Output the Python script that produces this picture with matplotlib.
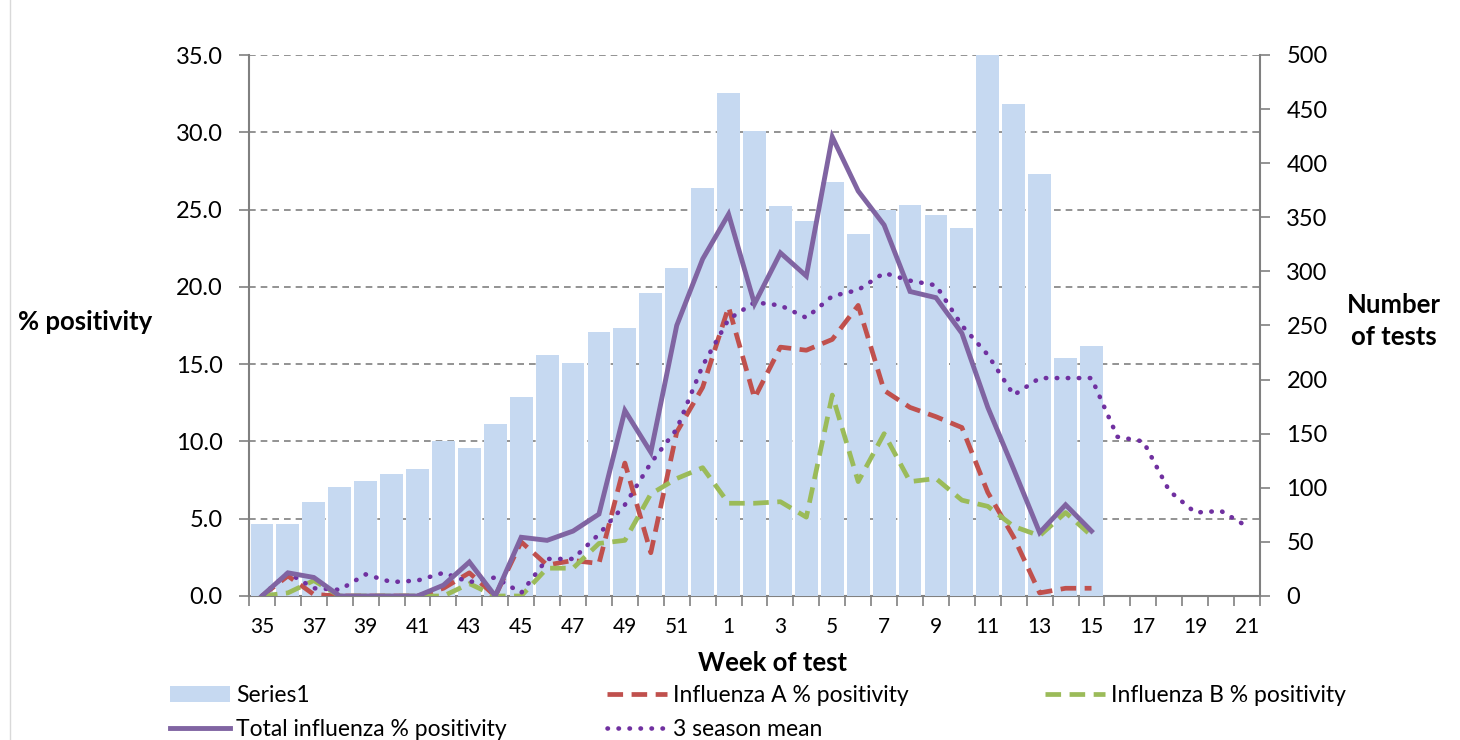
import numpy as np
import matplotlib
matplotlib.use("Agg")
import matplotlib.pyplot as plt
from matplotlib.patches import Patch
from matplotlib.lines import Line2D

plt.rcParams['font.family'] = ['Lato', 'DejaVu Sans']

weeks = list(range(35, 53)) + list(range(1, 22))
tick_labels = [str(w) if i % 2 == 0 else '' for i, w in enumerate(weeks)]

# Number of tests (weeks 35..52, 1..15)
tests = [67, 67, 87, 101, 106, 113, 117, 143, 137, 159, 184, 223, 215, 244, 248, 280, 303, 377,
         465, 430, 360, 347, 383, 335, 357, 361, 352, 340, 500, 455, 390, 220, 231]
# % positivity (weeks 35..52, 1..15)
total_pos = [0.0, 1.5, 1.2, 0.0, 0.0, 0.0, 0.0, 0.7, 2.2, 0.0, 3.8, 3.6, 4.2, 5.3, 12.0, 9.3, 17.5, 21.8,
             24.7, 18.9, 22.2, 20.7, 29.7, 26.2, 24.0, 19.7, 19.3, 17.0, 12.2, 8.2, 4.1, 5.9, 4.2]
flu_a = [0.0, 1.3, 0.1, 0.0, 0.0, 0.0, 0.0, 0.5, 1.5, 0.0, 3.5, 2.0, 2.3, 2.1, 8.6, 2.8, 10.6, 13.5,
         18.7, 12.8, 16.1, 15.9, 16.6, 18.8, 13.3, 12.2, 11.6, 10.9, 6.7, 3.8, 0.2, 0.5, 0.5]
flu_b = [0.0, 0.2, 1.0, 0.0, 0.0, 0.0, 0.0, 0.0, 0.8, 0.0, 0.0, 1.8, 1.8, 3.4, 3.6, 6.6, 7.6, 8.3,
         6.0, 6.0, 6.1, 5.1, 13.0, 7.4, 10.5, 7.4, 7.6, 6.2, 5.8, 4.5, 3.9, 5.4, 3.9]
# 3 season mean (weeks 35..52, 1..21)
season_mean = [0.0, 1.5, 0.5, 0.4, 1.4, 0.9, 1.0, 1.5, 0.9, 1.2, 0.2, 2.4, 2.4, 4.0, 5.9, 8.6, 10.8, 14.9,
               17.9, 19.0, 18.8, 18.0, 19.4, 19.8, 20.9, 20.4, 20.1, 17.5, 15.6, 13.0, 14.1, 14.1, 14.1,
               10.3, 10.0, 6.8, 5.4, 5.5, 4.5]

GREY = '#808080'
BAR = '#C6D9F1'
PURPLE = '#8064A2'
RED = '#C0504D'
GREEN = '#9BBB59'
DOT = '#7030A0'
FS_Y = 17
FS_X = 15
FS_LEG = 16.5
FS_T = 18.5

x_all = np.arange(len(weeks))

fig = plt.figure(figsize=(14.6, 7.4), dpi=100)
ax1 = fig.add_axes([249/1460, 1-596/740, (1260-249)/1460, (596-55)/740])

ax1.set_xlim(-0.5, len(weeks) - 0.5)
ax1.set_ylim(0, 35)
ax1.set_yticks(np.arange(0, 35.1, 5))
ax1.set_yticklabels([f'{v:.1f}' for v in np.arange(0, 35.1, 5)], fontsize=FS_Y)
ax1.yaxis.grid(True, linestyle=(0, (4, 3)), color=GREY, linewidth=1.2)
ax1.set_axisbelow(True)
ax1.set_xticks(x_all[::2])
ax1.set_xticklabels(tick_labels[::2], fontsize=FS_X)
ax1.set_xticks(np.arange(-0.5, len(weeks), 1), minor=True)
ax1.tick_params(axis='x', which='major', length=0, pad=15)
ax1.tick_params(axis='x', which='minor', length=7, color=GREY, width=1.2)
ax1.tick_params(axis='y', length=7, color=GREY, width=1.2, pad=12)
for s in ['top', 'right']:
    ax1.spines[s].set_visible(False)
for s in ['left', 'bottom']:
    ax1.spines[s].set_color(GREY)
    ax1.spines[s].set_linewidth(1.5)

ax2 = ax1.twinx()
ax2.bar(x_all[:len(tests)], tests, width=0.88, color=BAR, zorder=1)
ax2.set_ylim(0, 500)
ax2.set_yticks(np.arange(0, 501, 50))
ax2.tick_params(axis='y', labelsize=FS_Y, length=7, color=GREY, width=1.2, pad=12)
for s in ['top', 'left', 'bottom']:
    ax2.spines[s].set_visible(False)
ax2.spines['right'].set_color(GREY)
ax2.spines['right'].set_linewidth(1.5)

ax3 = ax1.twinx()
ax3.set_ylim(0, 35)
ax3.set_yticks([])
for s in ax3.spines.values():
    s.set_visible(False)
n = len(total_pos)
l_a, = ax3.plot(x_all[:n], flu_a, color=RED, lw=3.4, linestyle=(0, (3.3, 1.8)))
l_b, = ax3.plot(x_all[:n], flu_b, color=GREEN, lw=3.4, linestyle=(0, (3.3, 1.8)))
l_m, = ax3.plot(x_all, season_mean, color=DOT, lw=3.3, linestyle=(0, (0.1, 2.3)),
                dash_capstyle='round')
l_t, = ax3.plot(x_all[:n], total_pos, color=PURPLE, lw=3.5, solid_joinstyle='miter')

fig.text(85/1460, 1-322/740, '% positivity', ha='center', va='center', fontsize=FS_T, weight='bold')
fig.text(1394/1460, 1-305/740, 'Number', ha='center', va='center', fontsize=FS_T, weight='bold')
fig.text(1394/1460, 1-337/740, 'of tests', ha='center', va='center', fontsize=FS_T, weight='bold')
fig.text(773/1460, 1-663/740, 'Week of test', ha='center', va='center', fontsize=FS_T, weight='bold')

bar_h = Patch(facecolor=BAR, edgecolor='none')
leg_kw = dict(loc='upper left', frameon=False, fontsize=FS_LEG, borderpad=0, borderaxespad=0,
              handlelength=2.6, handletextpad=0.3, labelspacing=0.55, handleheight=0.65)
fig.legend([bar_h, l_t], ['Series1', 'Total influenza % positivity'],
           bbox_to_anchor=(170/1460, 1-685/740), **leg_kw)
fig.legend([l_a, l_m], ['Influenza A % positivity', '3 season mean'],
           bbox_to_anchor=(607/1460, 1-685/740), **leg_kw)
fig.legend([l_b], ['Influenza B % positivity'],
           bbox_to_anchor=(1045/1460, 1-685/740), **leg_kw)

fig.add_artist(Line2D([10/1460, 10/1460], [0, 1], color='#D9D9D9', lw=1))

fig.savefig('out.png', dpi=100)
